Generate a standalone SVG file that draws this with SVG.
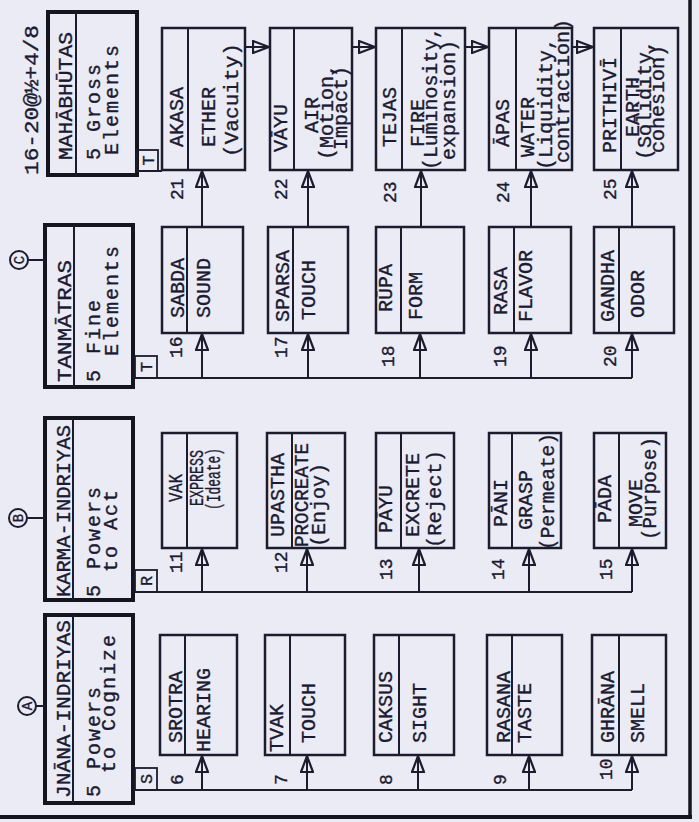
<svg xmlns="http://www.w3.org/2000/svg" width="699" height="822" viewBox="0 0 699 822">
<defs>
<style>
.bg{fill:#ebebf5}
.bx{fill:none;stroke:#1c1c2e;stroke-width:2.5}
.hb{fill:none;stroke:#15151f;stroke-width:4}
.dv{stroke:#1c1c2e;stroke-width:2}
.ln{stroke:#1c1c2e;stroke-width:2;fill:none}
.tg{fill:none;stroke:#1c1c2e;stroke-width:1.8}
text{font-family:"Liberation Mono","DejaVu Sans Mono",monospace;fill:#1a1a32;stroke:#1a1a32;stroke-width:0.35}
.h{font-size:21px}
.b{font-size:20px;letter-spacing:2px}
.i{font-size:20px}
.n{font-size:18px}
.t{font-size:17px}
.cl{font-size:14px}
</style>
<marker id="tri" viewBox="0 0 18 14" refX="17" refY="7" markerUnits="userSpaceOnUse" markerWidth="18" markerHeight="14" orient="auto">
<path d="M1,1 L17,7 L1,13 Z" fill="none" stroke="#1c1c2e" stroke-width="2.2"/>
</marker>
</defs>
<rect class="bg" x="0" y="0" width="699" height="822"/>
<g id="frame">
<line x1="690" y1="0" x2="690" y2="818" stroke="#15151f" stroke-width="3.5"/>
<line x1="0" y1="817" x2="692" y2="817" stroke="#15151f" stroke-width="4"/>
</g>
<text x="38" y="175" font-size="21" transform="rotate(-90 38 175)" textLength="150" lengthAdjust="spacingAndGlyphs">16-20@½+4/8</text>

<!-- header nodes -->
<g id="mahabhutas">
<rect class="hb" x="48" y="12" width="89" height="163"/>
<line class="dv" x1="76" y1="12" x2="76" y2="175"/>
<text class="h" x="72" y="160" transform="rotate(-90 72 160)" textLength="128" lengthAdjust="spacingAndGlyphs">MAHĀBHŪTAS</text>
<text class="b" x="100" y="160" transform="rotate(-90 100 160)">5 Gross</text>
<text class="b" x="118" y="155" transform="rotate(-90 118 155)">Elements</text>
</g>
<g id="tanmatras">
<rect class="hb" x="45" y="225" width="88" height="162"/>
<line class="dv" x1="74" y1="225" x2="74" y2="387"/>
<text class="h" x="71" y="382" transform="rotate(-90 71 382)" textLength="122" lengthAdjust="spacingAndGlyphs">TANMĀTRAS</text>
<text class="b" x="100" y="382" transform="rotate(-90 100 382)">5 Fine</text>
<text class="b" x="118" y="356" transform="rotate(-90 118 356)">Elements</text>
<circle class="ln" cx="19" cy="260" r="9"/>
<text class="cl" x="24" y="260" text-anchor="middle" transform="rotate(-90 24 260)">C</text>
<line class="ln" x1="28" y1="260" x2="45" y2="260"/>
</g>
<g id="karma">
<rect class="hb" x="45" y="418" width="88" height="182"/>
<line class="dv" x1="73" y1="418" x2="73" y2="600"/>
<text class="h" x="70" y="597" transform="rotate(-90 70 597)" textLength="172" lengthAdjust="spacingAndGlyphs">KARMA-INDRIYAS</text>
<text class="b" x="100" y="597" transform="rotate(-90 100 597)">5 Powers</text>
<text class="b" x="117" y="572" transform="rotate(-90 117 572)">to Act</text>
<circle class="ln" cx="18" cy="518" r="9"/>
<text class="cl" x="23" y="518" text-anchor="middle" transform="rotate(-90 23 518)">B</text>
<line class="ln" x1="27" y1="518" x2="45" y2="518"/>
</g>
<g id="jnana">
<rect class="hb" x="45" y="615" width="88" height="188"/>
<line class="dv" x1="73" y1="615" x2="73" y2="803"/>
<text class="h" x="70" y="798" transform="rotate(-90 70 798)" textLength="178" lengthAdjust="spacingAndGlyphs">JNĀNA-INDRIYAS</text>
<text class="b" x="100" y="797" transform="rotate(-90 100 797)">5 Powers</text>
<text class="b" x="115" y="773" transform="rotate(-90 115 773)">to Cognize</text>
<circle class="ln" cx="27" cy="706" r="9"/>
<text class="cl" x="32" y="706" text-anchor="middle" transform="rotate(-90 32 706)">A</text>
<line class="ln" x1="36" y1="706" x2="45" y2="706"/>
</g>

<!-- connectors -->
<g id="connectors">
<line class="ln" x1="133" y1="790" x2="632" y2="790"/>
<line class="ln" x1="133" y1="592" x2="632" y2="592"/>
<line class="ln" x1="133" y1="378" x2="632" y2="378"/>
<line class="ln" x1="137" y1="171" x2="162" y2="171"/>
<line class="ln" x1="202" y1="790" x2="202" y2="756" marker-end="url(#tri)"/>
<line class="ln" x1="307" y1="790" x2="307" y2="756" marker-end="url(#tri)"/>
<line class="ln" x1="418" y1="790" x2="418" y2="756" marker-end="url(#tri)"/>
<line class="ln" x1="529" y1="790" x2="529" y2="756" marker-end="url(#tri)"/>
<line class="ln" x1="632" y1="790" x2="632" y2="756" marker-end="url(#tri)"/>
<line class="ln" x1="202" y1="592" x2="202" y2="549" marker-end="url(#tri)"/>
<line class="ln" x1="307" y1="592" x2="307" y2="549" marker-end="url(#tri)"/>
<line class="ln" x1="419" y1="592" x2="419" y2="549" marker-end="url(#tri)"/>
<line class="ln" x1="529" y1="592" x2="529" y2="549" marker-end="url(#tri)"/>
<line class="ln" x1="632" y1="592" x2="632" y2="549" marker-end="url(#tri)"/>
<line class="ln" x1="202" y1="378" x2="202" y2="334" marker-end="url(#tri)"/>
<line class="ln" x1="308" y1="378" x2="308" y2="334" marker-end="url(#tri)"/>
<line class="ln" x1="420" y1="378" x2="420" y2="334" marker-end="url(#tri)"/>
<line class="ln" x1="531" y1="378" x2="531" y2="334" marker-end="url(#tri)"/>
<line class="ln" x1="632" y1="378" x2="632" y2="334" marker-end="url(#tri)"/>
<line class="ln" x1="202" y1="227" x2="202" y2="171" marker-end="url(#tri)"/>
<line class="ln" x1="308" y1="227" x2="308" y2="171" marker-end="url(#tri)"/>
<line class="ln" x1="421" y1="227" x2="421" y2="171" marker-end="url(#tri)"/>
<line class="ln" x1="531" y1="227" x2="531" y2="171" marker-end="url(#tri)"/>
<line class="ln" x1="632" y1="227" x2="632" y2="171" marker-end="url(#tri)"/>
<line class="ln" x1="245" y1="47" x2="269" y2="47" marker-end="url(#tri)"/>
<line class="ln" x1="352" y1="47" x2="375" y2="47" marker-end="url(#tri)"/>
<line class="ln" x1="465" y1="47" x2="488" y2="47" marker-end="url(#tri)"/>
<line class="ln" x1="572" y1="47" x2="593" y2="47" marker-end="url(#tri)"/>
</g>

<!-- tags -->
<g id="tag-s"><rect class="tg" x="135" y="768" width="22" height="22"/><text class="t" x="152" y="779" text-anchor="middle" transform="rotate(-90 152 779)">S</text></g>
<g id="tag-r"><rect class="tg" x="135" y="570" width="22" height="22"/><text class="t" x="152" y="581" text-anchor="middle" transform="rotate(-90 152 581)">R</text></g>
<g id="tag-t1"><rect class="tg" x="135" y="356" width="22" height="22"/><text class="t" x="152" y="367" text-anchor="middle" transform="rotate(-90 152 367)">T</text></g>
<g id="tag-t2"><rect class="tg" x="137" y="150" width="21" height="21"/><text class="t" x="153.5" y="160.5" text-anchor="middle" transform="rotate(-90 153.5 160.5)">T</text></g>

<!-- numbers -->
<g id="numbers" class="n">
<text x="183" y="785" transform="rotate(-90 183 785)">6</text>
<text x="287" y="785" transform="rotate(-90 287 785)">7</text>
<text x="392" y="785" transform="rotate(-90 392 785)">8</text>
<text x="506" y="785" transform="rotate(-90 506 785)">9</text>
<text x="612" y="780" transform="rotate(-90 612 780)">10</text>
<text x="182" y="573" transform="rotate(-90 182 573)">11</text>
<text x="287" y="573" transform="rotate(-90 287 573)">12</text>
<text x="392" y="580" transform="rotate(-90 392 580)">13</text>
<text x="504" y="580" transform="rotate(-90 504 580)">14</text>
<text x="612" y="580" transform="rotate(-90 612 580)">15</text>
<text x="182" y="358" transform="rotate(-90 182 358)">16</text>
<text x="287" y="358" transform="rotate(-90 287 358)">17</text>
<text x="394" y="367" transform="rotate(-90 394 367)">18</text>
<text x="506" y="367" transform="rotate(-90 506 367)">19</text>
<text x="616" y="367" transform="rotate(-90 616 367)">20</text>
<text x="183" y="200" transform="rotate(-90 183 200)">21</text>
<text x="287" y="200" transform="rotate(-90 287 200)">22</text>
<text x="396" y="203" transform="rotate(-90 396 203)">23</text>
<text x="509" y="203" transform="rotate(-90 509 203)">24</text>
<text x="616" y="200" transform="rotate(-90 616 200)">25</text>
</g>

<!-- Jnana items -->
<g id="n6" class="i"><rect class="bx" x="160" y="635" width="77" height="120"/><line class="dv" x1="185" y1="635" x2="185" y2="755"/>
<text x="182" y="743" transform="rotate(-90 182 743)">SROTRA</text><text x="210" y="752" transform="rotate(-90 210 752)">HEARING</text></g>
<g id="n7" class="i"><rect class="bx" x="265" y="635" width="80" height="120"/><line class="dv" x1="290" y1="635" x2="290" y2="755"/>
<text x="283" y="752" transform="rotate(-90 283 752)">TVAK</text><text x="315" y="743" transform="rotate(-90 315 743)">TOUCH</text></g>
<g id="n8" class="i"><rect class="bx" x="374" y="635" width="80" height="120"/><line class="dv" x1="399" y1="635" x2="399" y2="755"/>
<text x="392" y="743" transform="rotate(-90 392 743)">CAKSUS</text><text x="426" y="743" transform="rotate(-90 426 743)">SIGHT</text></g>
<g id="n9" class="i"><rect class="bx" x="487" y="635" width="75" height="120"/><line class="dv" x1="512" y1="635" x2="512" y2="755"/>
<text x="510" y="743" transform="rotate(-90 510 743)">RASANA</text><text x="531" y="743" transform="rotate(-90 531 743)">TASTE</text></g>
<g id="n10" class="i"><rect class="bx" x="592" y="635" width="74" height="120"/><line class="dv" x1="619" y1="635" x2="619" y2="755"/>
<text x="614" y="743" transform="rotate(-90 614 743)">GHRĀNA</text><text x="644" y="743" transform="rotate(-90 644 743)">SMELL</text></g>

<!-- Karma items -->
<g id="n11" class="i"><rect class="bx" x="162" y="433" width="75" height="115"/><line class="dv" x1="187" y1="433" x2="187" y2="548"/>
<text x="182" y="502" transform="rotate(-90 182 502)" textLength="28" lengthAdjust="spacingAndGlyphs">VAK</text>
<text x="203" y="506" transform="rotate(-90 203 506)" textLength="56" lengthAdjust="spacingAndGlyphs">EXPRESS</text>
<text x="220" y="510" transform="rotate(-90 220 510)" textLength="62" lengthAdjust="spacingAndGlyphs">(Ideate)</text></g>
<g id="n12" class="i"><rect class="bx" x="267" y="433" width="78" height="115"/><line class="dv" x1="292" y1="433" x2="292" y2="548"/>
<text x="284" y="537" transform="rotate(-90 284 537)">UPASTHA</text>
<text x="308" y="547" transform="rotate(-90 308 547)" textLength="104" lengthAdjust="spacingAndGlyphs">PROCREATE</text>
<text x="325" y="547" transform="rotate(-90 325 547)">(Enjoy)</text></g>
<g id="n13" class="i"><rect class="bx" x="376" y="433" width="78" height="115"/><line class="dv" x1="401" y1="433" x2="401" y2="548"/>
<text x="392" y="533" transform="rotate(-90 392 533)">PĀYU</text>
<text x="419" y="537" transform="rotate(-90 419 537)">EXCRETE</text>
<text x="441" y="548" transform="rotate(-90 441 548)" textLength="98" lengthAdjust="spacingAndGlyphs">(Reject)</text></g>
<g id="n14" class="i"><rect class="bx" x="489" y="433" width="72" height="115"/><line class="dv" x1="512" y1="433" x2="512" y2="548"/>
<text x="507" y="527" transform="rotate(-90 507 527)">PĀNI</text>
<text x="532" y="530" transform="rotate(-90 532 530)">GRASP</text>
<text x="554" y="550" transform="rotate(-90 554 550)" textLength="117" lengthAdjust="spacingAndGlyphs">(Permeate)</text></g>
<g id="n15" class="i"><rect class="bx" x="594" y="433" width="72" height="115"/><line class="dv" x1="619" y1="433" x2="619" y2="548"/>
<text x="611" y="523" transform="rotate(-90 611 523)">PĀDA</text>
<text x="642" y="527" transform="rotate(-90 642 527)">MOVE</text>
<text x="656" y="540" transform="rotate(-90 656 540)" textLength="103" lengthAdjust="spacingAndGlyphs">(Purpose)</text></g>

<!-- Tanmatras items -->
<g id="n16" class="i"><rect class="bx" x="162" y="227" width="81" height="106"/><line class="dv" x1="187" y1="227" x2="187" y2="333"/>
<text x="184" y="318" transform="rotate(-90 184 318)">SABDA</text><text x="210" y="318" transform="rotate(-90 210 318)">SOUND</text></g>
<g id="n17" class="i"><rect class="bx" x="268" y="227" width="80" height="106"/><line class="dv" x1="293" y1="227" x2="293" y2="333"/>
<text x="289" y="322" transform="rotate(-90 289 322)">SPARSA</text><text x="315" y="320" transform="rotate(-90 315 320)">TOUCH</text></g>
<g id="n18" class="i"><rect class="bx" x="376" y="227" width="88" height="106"/><line class="dv" x1="401" y1="227" x2="401" y2="333"/>
<text x="392" y="312" transform="rotate(-90 392 312)">RŪPA</text><text x="422" y="320" transform="rotate(-90 422 320)">FORM</text></g>
<g id="n19" class="i"><rect class="bx" x="489" y="227" width="82" height="106"/><line class="dv" x1="514" y1="227" x2="514" y2="333"/>
<text x="507" y="315" transform="rotate(-90 507 315)">RASA</text><text x="532" y="322" transform="rotate(-90 532 322)">FLAVOR</text></g>
<g id="n20" class="i"><rect class="bx" x="594" y="227" width="80" height="106"/><line class="dv" x1="619" y1="227" x2="619" y2="333"/>
<text x="614" y="322" transform="rotate(-90 614 322)">GANDHA</text><text x="644" y="318" transform="rotate(-90 644 318)">ODOR</text></g>

<!-- Mahabhutas items -->
<g id="n21" class="i"><rect class="bx" x="162" y="28" width="83" height="142"/><line class="dv" x1="188" y1="28" x2="188" y2="170"/>
<text x="183" y="147" transform="rotate(-90 183 147)">AKASA</text>
<text x="215" y="147" transform="rotate(-90 215 147)">ETHER</text>
<text x="238" y="157" transform="rotate(-90 238 157)" textLength="114" lengthAdjust="spacingAndGlyphs">(Vacuity)</text></g>
<g id="n22" class="i"><rect class="bx" x="270" y="28" width="82" height="142"/><line class="dv" x1="294" y1="28" x2="294" y2="170"/>
<text x="287" y="152" transform="rotate(-90 287 152)">VĀYU</text>
<text x="318" y="133" transform="rotate(-90 318 133)">AIR</text>
<text x="333" y="160" transform="rotate(-90 333 160)">(Motion,</text>
<text x="347" y="150" transform="rotate(-90 347 150)">Impact)</text></g>
<g id="n23" class="i"><rect class="bx" x="376" y="28" width="89" height="142"/><line class="dv" x1="402" y1="28" x2="402" y2="170"/>
<text x="396" y="147" transform="rotate(-90 396 147)">TEJAS</text>
<text x="424" y="147" transform="rotate(-90 424 147)">FIRE</text>
<text x="437" y="170" transform="rotate(-90 437 170)" textLength="143" lengthAdjust="spacingAndGlyphs">(Luminosity,</text>
<text x="455" y="160" transform="rotate(-90 455 160)">expansion)</text></g>
<g id="n24" class="i"><rect class="bx" x="489" y="28" width="83" height="142"/><line class="dv" x1="516" y1="28" x2="516" y2="170"/>
<text x="509" y="147" transform="rotate(-90 509 147)">ĀPAS</text>
<text x="534" y="157" transform="rotate(-90 534 157)">WATER</text>
<text x="552" y="170" transform="rotate(-90 552 170)">(Liquidity,</text>
<text x="569" y="163" transform="rotate(-90 569 163)">contraction)</text></g>
<g id="n25" class="i"><rect class="bx" x="594" y="28" width="84" height="142"/><line class="dv" x1="621" y1="28" x2="621" y2="170"/>
<text x="616" y="153" transform="rotate(-90 616 153)">PRITHIVĪ</text>
<text x="639" y="137" transform="rotate(-90 639 137)">EARTH</text>
<text x="651" y="160" transform="rotate(-90 651 160)">(Solidity,</text>
<text x="664" y="153" transform="rotate(-90 664 153)">cohesion)</text></g>
</svg>
